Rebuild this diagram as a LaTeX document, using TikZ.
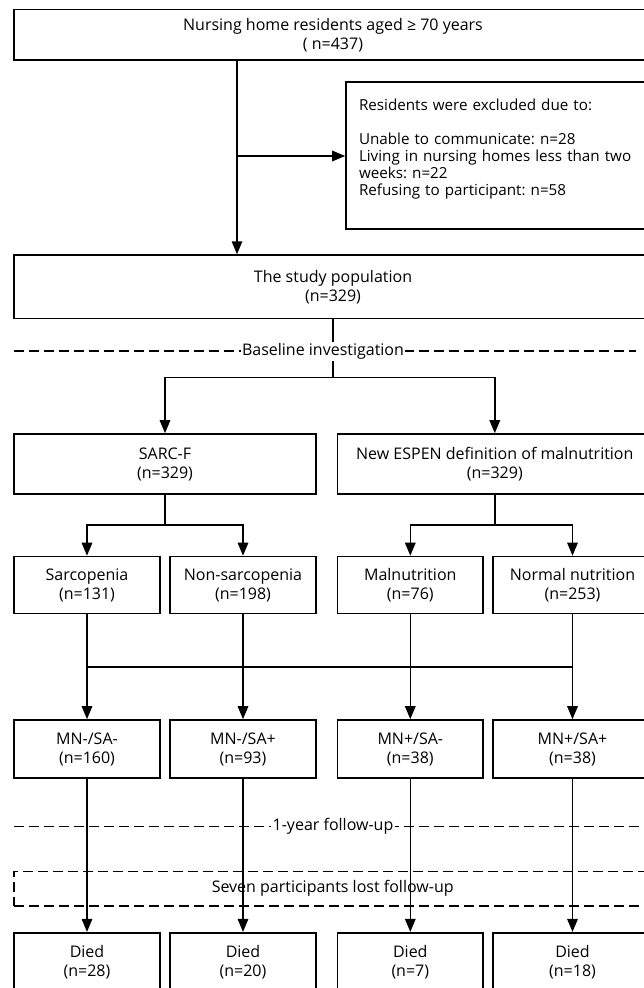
\documentclass[tikz,border=0pt]{standalone}
\usepackage{fontspec}
\setmainfont{Open Sans}
\usepackage{tikz}
\usetikzlibrary{arrows.meta,calc}
\frenchspacing

\begin{document}
\begin{tikzpicture}[x=1pt,y=-1pt,
	box/.style={draw,line width=1.6pt,align=center,inner sep=0pt,font=\fontsize{16}{19}\selectfont},
	arr/.style={line width=1.5pt,-{Triangle[length=13pt,width=10.5pt]}},
	ln/.style={line width=1.5pt},
	dsh/.style={line width=1.5pt,dash pattern=on 10pt off 5pt},
	lbl/.style={fill=white,inner sep=1.5pt,font=\fontsize{16}{19}\selectfont}]
	\useasboundingbox (0,0) rectangle (644,988);
	\node[box,minimum width=638pt,minimum height=50.7pt] (start) at (333,34.7) {Nursing home residents aged ≥ 70 years\\( n=437)};
	\node[box,align=left,text width=291pt,inner xsep=13pt,minimum height=147pt,font=\fontsize{15.2}{17}\selectfont] (excl) at (504.5,155.5) {Residents were excluded due to:\\[17pt]Unable to communicate: n=28\\Living in nursing homes less than two weeks: n=22\\Refusing to participant: n=58\\ \mbox{}};
	\node[box,minimum width=638pt,minimum height=63.3pt] (study) at (333,286.7) {The study population\\(n=329)};
	\coordinate (sp) at (237,156);
	\draw[arr] (start.south -| sp) -- (study.north -| sp);
	\draw[arr] (sp) -- (excl.west |- sp);
	\node[box,minimum width=302pt,minimum height=60pt] (sarcf) at (165,464) {SARC-F\\(n=329)};
	\node[box,minimum width=314.4pt,minimum height=60pt] (espen) at (494.8,464) {New ESPEN definition of malnutrition\\(n=329)};
	\coordinate (bl) at (14,351);
	\coordinate (br) at (636,351);
	\draw[dsh] (bl) -- (br);
	\draw[arr] (study.south) -- ++(0,58.4) -| (sarcf.north);
	\draw[arr] ($(study.south)+(0,58.4)$) -| (espen.north);
	\node[lbl] (base) at (323,351) {Baseline investigation};
	\node[box,minimum width=146pt,minimum height=57pt] (sarc) at (87,585) {Sarcopenia\\(n=131)};
	\node[box,minimum width=146pt,minimum height=57pt] (nonsarc) at (243,585) {Non-sarcopenia\\(n=198)};
	\node[box,minimum width=145.4pt,minimum height=57pt] (maln) at (410.3,585) {Malnutrition\\(n=76)};
	\node[box,minimum width=159pt,minimum height=57pt] (norm) at (572.5,585) {Normal nutrition\\(n=253)};
	\draw[arr] (sarcf.south) -- ++(0,30) -| (sarc.north);
	\draw[arr] ($(sarcf.south)+(0,30)$) -| (nonsarc.north);
	\draw[arr] (espen.south) -- ++(0,30) -| (maln.north);
	\draw[arr] ($(espen.south)+(0,30)$) -| (norm.north);
	\node[box,minimum width=146pt,minimum height=58pt] (g1) at (87,749) {MN-/SA-\\(n=160)};
	\node[box,minimum width=146pt,minimum height=58pt] (g2) at (243,749) {MN-/SA+\\(n=93)};
	\node[box,minimum width=145.4pt,minimum height=58pt] (g3) at (410.3,749) {MN+/SA-\\(n=38)};
	\node[box,minimum width=159pt,minimum height=58pt] (g4) at (572.5,749) {MN+/SA+\\(n=38)};
	\coordinate (bar) at (0,667);
	\draw[ln] (sarc.south |- bar) -- (norm.south |- bar);
	\draw[arr] (sarc) -- (g1);
	\draw[arr] (nonsarc) -- (g2);
	\draw[arr] (maln) -- (g3);
	\draw[arr] (norm) -- (g4);
	\coordinate (fl) at (14,826.7);
	\coordinate (fr) at (652,826.7);
	\draw[dsh] (fl) -- (fr);
	\node[lbl] (year) at (333,826.7) {1-year follow-up};
	\node[draw,dsh,minimum width=637.4pt,minimum height=34.5pt,font=\fontsize{16}{19}\selectfont] (lost) at (332.7,888.7) {Seven participants lost follow-up};
	\node[box,minimum width=146pt,minimum height=58pt] (d1) at (87,961.7) {Died\\(n=28)};
	\node[box,minimum width=146pt,minimum height=58pt] (d2) at (243,961.7) {Died\\(n=20)};
	\node[box,minimum width=145.4pt,minimum height=58pt] (d3) at (410.3,961.7) {Died\\(n=7)};
	\node[box,minimum width=159pt,minimum height=58pt] (d4) at (572.5,961.7) {Died\\(n=18)};
	\draw[arr] (g1) -- (d1);
	\draw[arr] (g2) -- (d2);
	\draw[arr] (g3) -- (d3);
	\draw[arr] (g4) -- (d4);
\end{tikzpicture}
\end{document}
